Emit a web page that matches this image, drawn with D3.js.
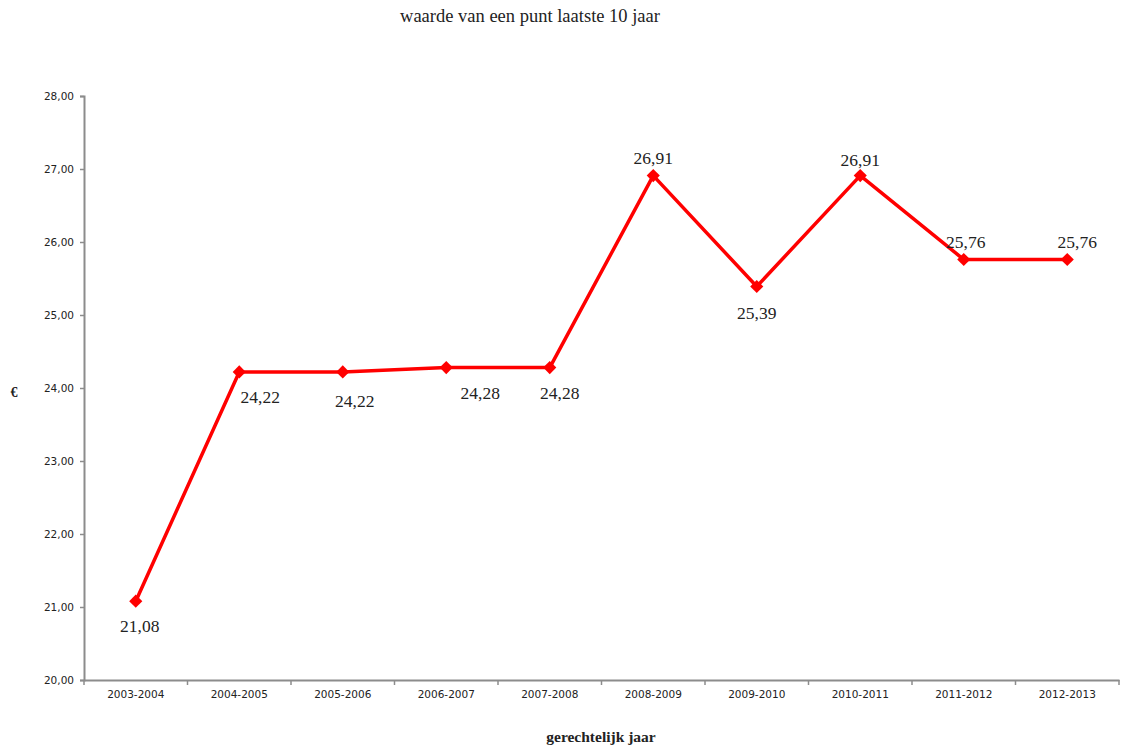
<!DOCTYPE html>
<html>
<head>
<meta charset="utf-8">
<script src="https://cdn.jsdelivr.net/npm/d3@7"></script>
<style>
  html, body { margin: 0; padding: 0; background: #fff; }
  svg { display: block; }
</style>
</head>
<body>
<svg id="chart" width="1123" height="752"></svg>
<script>
// Judicial years and the value of one point per year (€)
const years = ["2003-2004", "2004-2005", "2005-2006", "2006-2007", "2007-2008",
               "2008-2009", "2009-2010", "2010-2011", "2011-2012", "2012-2013"];
const values = [21.08, 24.22, 24.22, 24.28, 24.28, 26.91, 25.39, 26.91, 25.76, 25.76];
const yTicks = [20, 21, 22, 23, 24, 25, 26, 27, 28];

// Label placement relative to each marker (pixels)
const labelDx = [4, 21, 12, 34, 10, 0, 0, 0, 2, 10];
const labelDy = [25, 25, 29, 25, 25, -18, 26, -16, -18, -18];

const svg = d3.select("#chart");
const plotLeft = 84, plotRight = 1119, plotTop = 96, plotBottom = 680;

const x = d3.scaleBand().domain(years).range([plotLeft, plotRight]);
const y = d3.scaleLinear().domain([20, 28]).range([plotBottom, plotTop]);
const fmt = v => v.toFixed(2).replace(".", ",");

// Title
svg.append("text")
  .attr("x", 530).attr("y", 22)
  .attr("text-anchor", "middle")
  .attr("font-family", "Liberation Serif, DejaVu Serif, serif")
  .attr("font-size", 18.5)
  .attr("fill", "#222")
  .text("waarde van een punt laatste 10 jaar");

// Y axis
const yAxis = svg.append("g")
  .attr("transform", `translate(${plotLeft},0)`)
  .call(d3.axisLeft(y).tickValues(yTicks).tickFormat(fmt).tickSize(4).tickPadding(6));
yAxis.select(".domain").attr("stroke", "#8c8c8c").attr("stroke-width", 2);
yAxis.selectAll(".tick line").attr("stroke", "#8c8c8c").attr("stroke-width", 1.5);
yAxis.selectAll(".tick text")
  .attr("font-family", "DejaVu Sans, Verdana, sans-serif")
  .attr("font-size", 10.5)
  .attr("fill", "#222");

// X axis with boundary ticks between bands
const xAxis = svg.append("g")
  .attr("transform", `translate(0,${plotBottom})`)
  .call(d3.axisBottom(x).tickSize(0).tickPadding(11));
xAxis.select(".domain").attr("stroke", "#8c8c8c").attr("stroke-width", 2);
xAxis.selectAll(".tick text")
  .attr("font-family", "DejaVu Sans, Verdana, sans-serif")
  .attr("font-size", 10.5)
  .attr("fill", "#222");
xAxis.selectAll(".boundary")
  .data(years.map(d => x(d)).concat([plotRight]))
  .enter().append("line")
  .attr("x1", d => d).attr("x2", d => d)
  .attr("y1", 0).attr("y2", 5)
  .attr("stroke", "#8c8c8c").attr("stroke-width", 1.5);

// Axis titles
svg.append("text")
  .attr("x", 601).attr("y", 742)
  .attr("text-anchor", "middle")
  .attr("font-family", "Liberation Serif, DejaVu Serif, serif")
  .attr("font-weight", "bold")
  .attr("font-size", 15.5)
  .attr("fill", "#222")
  .text("gerechtelijk jaar");
svg.append("text")
  .attr("x", 14).attr("y", 397)
  .attr("text-anchor", "middle")
  .attr("font-family", "Liberation Serif, DejaVu Serif, serif")
  .attr("font-weight", "bold")
  .attr("font-size", 14)
  .attr("fill", "#222")
  .text("€");

const cx = i => x(years[i]) + x.bandwidth() / 2;

// Line
const line = d3.line().x((d, i) => cx(i)).y(d => y(d));
svg.append("path")
  .datum(values)
  .attr("d", line)
  .attr("fill", "none")
  .attr("stroke", "#ff0000")
  .attr("stroke-width", 3.5)
  .attr("stroke-linejoin", "round");

// Diamond markers
svg.selectAll(".marker")
  .data(values)
  .enter().append("path")
  .attr("d", d3.symbol(d3.symbolDiamond2, 110))
  .attr("transform", (d, i) => `translate(${cx(i)},${y(d)})`)
  .attr("fill", "#ff0000");

// Value labels
svg.selectAll(".vlabel")
  .data(values)
  .enter().append("text")
  .attr("x", (d, i) => cx(i) + labelDx[i])
  .attr("y", (d, i) => y(d) + labelDy[i])
  .attr("dy", "0.35em")
  .attr("text-anchor", "middle")
  .attr("font-family", "Liberation Serif, DejaVu Serif, serif")
  .attr("font-size", 17.5)
  .attr("fill", "#222")
  .text(fmt);
</script>
</body>
</html>
